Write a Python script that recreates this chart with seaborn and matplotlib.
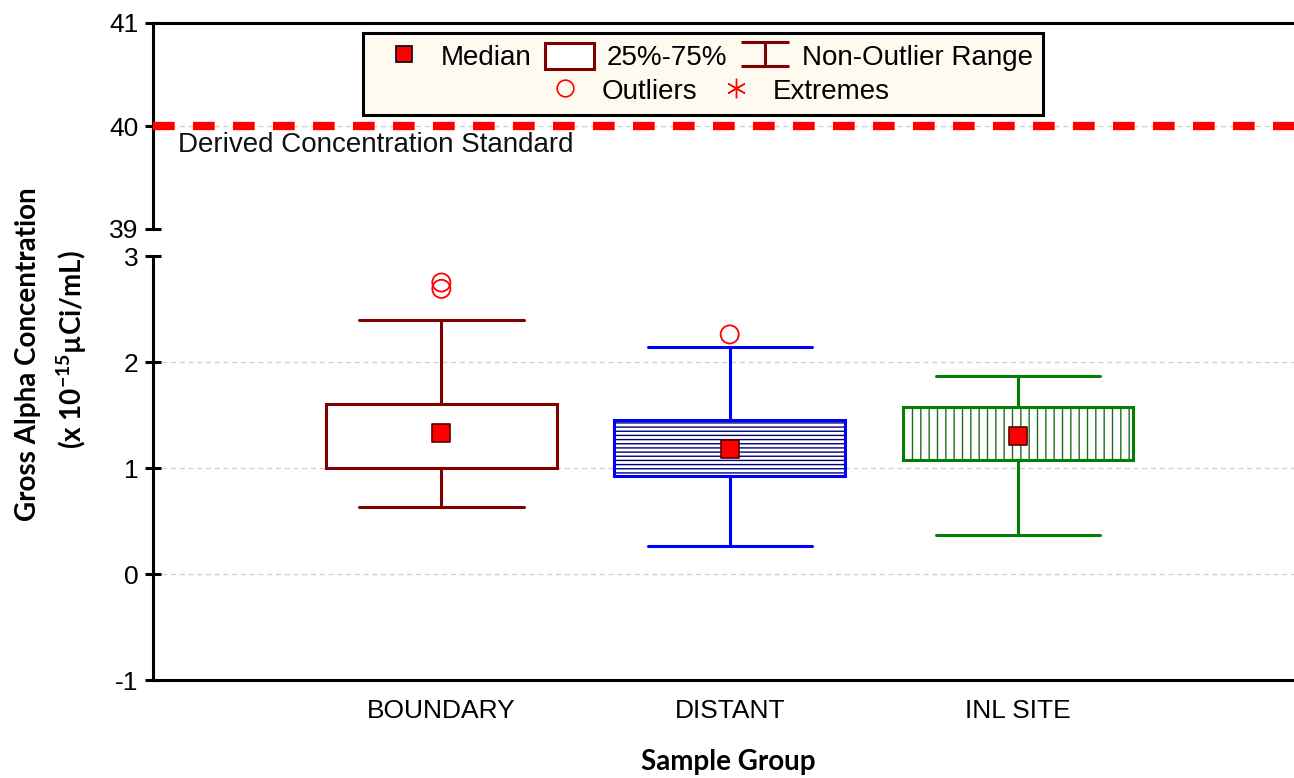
import numpy as np
import pandas as pd
import matplotlib
matplotlib.use("Agg")
import matplotlib.pyplot as plt
import seaborn as sns
from matplotlib.patches import PathPatch, Rectangle, Patch
from matplotlib.lines import Line2D
from matplotlib.path import Path

# ---------------- data ----------------
groups = ["BOUNDARY", "DISTANT", "INL SITE"]
medians = [1.33, 1.18, 1.30]
q1 = [1.00, 0.92, 1.08]
q3 = [1.60, 1.45, 1.58]
whislo = [0.63, 0.26, 0.37]
whishi = [2.40, 2.14, 1.87]
outlier_group = ["BOUNDARY", "BOUNDARY", "DISTANT"]
outlier_values = [2.75, 2.69, 2.26]
dcs_value = 40
dcs_label = "Derived Concentration Standard"
top_ticks = [39, 40, 41]
bottom_ticks = [-1, 0, 1, 2, 3]
legend_row1 = ["Median", "25%-75%", "Non-Outlier Range"]
legend_row2 = ["Outliers", "Extremes"]
xlabel = "Sample Group"
ylabel_line1 = "Gross Alpha Concentration"
ylabel_line2 = "(x 10$^{-15}$\u00b5Ci/mL)"

# ---------------- style ----------------
box_colors = ["#800000", "#0000ff", "#008000"]
hatches = [None, "----", "||"]
hatch_colors = [None, "#000080", "#1e6e1e"]

sns.set_theme(style="white")
plt.rcParams["font.family"] = ["Liberation Sans", "DejaVu Sans"]
plt.rcParams["mathtext.default"] = "regular"
plt.rcParams["hatch.linewidth"] = 1.0

W_PX, H_PX = 1294, 778
fig = plt.figure(figsize=(W_PX / 100, H_PX / 100), dpi=100)
L = 153 / W_PX
ax_top = fig.add_axes([L, 1 - 229 / H_PX, 1 - L, (229 - 23) / H_PX])
ax_bot = fig.add_axes([L, 1 - 680 / H_PX, 1 - L, (680 - 256) / H_PX])

positions = np.arange(1, len(groups) + 1)
xlim = (0, 3.957)

# ---------------- boxes ----------------
stats = [dict(med=m, q1=a, q3=b, whislo=lo, whishi=hi, fliers=[])
         for m, a, b, lo, hi in zip(medians, q1, q3, whislo, whishi)]
bp = ax_bot.bxp(stats, positions=positions, widths=0.80, capwidths=0.57,
                patch_artist=True, showfliers=False, manage_ticks=False)
for i, box in enumerate(bp["boxes"]):
    c = box_colors[i]
    box.set_facecolor("none")
    box.set_edgecolor(c)
    box.set_linewidth(2.2)
    box.set_zorder(3)
    if hatches[i]:
        hp = PathPatch(box.get_path(), facecolor="white", edgecolor=hatch_colors[i],
                       hatch=hatches[i], lw=0, zorder=2)
    else:
        hp = PathPatch(box.get_path(), facecolor="white", lw=0, zorder=2)
    ax_bot.add_patch(hp)
    for ln in bp["whiskers"][2 * i:2 * i + 2] + bp["caps"][2 * i:2 * i + 2]:
        ln.set_color(c)
        ln.set_linewidth(2.2)
        ln.set_zorder(2.5)
for ln in bp["medians"]:
    ln.set_visible(False)

# medians
med_df = pd.DataFrame({"x": positions, "y": medians})
sns.scatterplot(data=med_df, x="x", y="y", marker="s", s=150, color="red",
                edgecolor="#5a0000", linewidth=1.2, ax=ax_bot, zorder=6, legend=False)

# outliers
pos_map = dict(zip(groups, positions))
out_df = pd.DataFrame({"x": [pos_map[g] for g in outlier_group], "y": outlier_values})
sns.scatterplot(data=out_df, x="x", y="y", marker="o", s=170, facecolors="none",
                edgecolor="red", linewidth=1.3, ax=ax_bot, zorder=6, legend=False)

# ---------------- DCS line ----------------
ax_top.axhline(dcs_value, color="red", lw=6, ls=(0, (2.6, 2.2)), zorder=4)
ax_top.text(0.087, dcs_value - 0.18, dcs_label, fontsize=20, va="center",
            ha="left", color="#111111")

# ---------------- axes styling ----------------
grid_kw = dict(color="#cfcfcf", ls=(0, (4, 3)), lw=0.9, zorder=0.5)
for ax, ticks in ((ax_top, top_ticks), (ax_bot, bottom_ticks)):
    ax.set_xlim(*xlim)
    ax.set_facecolor("white")
    ax.grid(False)
    for t in ticks[:-1]:
        ax.axhline(t, **grid_kw)
    for s in ax.spines.values():
        s.set_color("black")
        s.set_linewidth(2.2)
    ax.spines["right"].set_visible(False)
    ax.tick_params(axis="y", direction="inout", length=11, width=2.2,
                   labelsize=19, pad=5, colors="black", left=True)
    ax.set_xlabel("")
    ax.set_ylabel("")

ax_top.set_ylim(39, 41)
ax_top.set_yticks(top_ticks)
ax_top.spines["bottom"].set_visible(False)
ax_top.set_xticks([])

ax_bot.set_ylim(-1, 3)
ax_bot.set_yticks(bottom_ticks)
ax_bot.set_yticklabels([str(t) for t in bottom_ticks])
ax_bot.spines["top"].set_visible(False)
ax_bot.set_xticks(positions)
ax_bot.set_xticklabels(groups)
ax_bot.tick_params(axis="x", length=0, labelsize=19, pad=14, colors="black")

# ---------------- labels ----------------
lab_font = dict(family=["Lato", "DejaVu Sans"], weight="bold", fontsize=20, color="black")
fig.text(728 / W_PX, 1 - 762 / H_PX, xlabel, ha="center", va="center", **lab_font)
fig.text(28 / W_PX, 1 - 354 / H_PX, ylabel_line1, ha="center", va="center",
         rotation=90, **lab_font)
fig.text(72 / W_PX, 1 - 350 / H_PX, ylabel_line2, ha="center", va="center",
         rotation=90, **lab_font)

# ---------------- legend ----------------
frame = Rectangle((363 / W_PX, 1 - 115 / H_PX), 680 / W_PX, 82 / H_PX,
                  transform=fig.transFigure, facecolor="#fffaf0", edgecolor="black",
                  lw=2.2, zorder=10)
fig.add_artist(frame)

ibeam = Path([(-1, 0.5), (1, 0.5), (0, 0.5), (0, -0.5), (-1, -0.5), (1, -0.5)],
             [Path.MOVETO, Path.LINETO, Path.MOVETO, Path.LINETO, Path.MOVETO, Path.LINETO])
h_med = Line2D([], [], marker="s", ls="none", color="red", mec="black", ms=11, mew=1.2)
h_box = Patch(facecolor="white", edgecolor="#800000", lw=2.2)
h_rng = Line2D([], [], marker=ibeam, ls="none", color="#800000", ms=34, mew=2.2, mfc="none")
h_out = Line2D([], [], marker="o", ls="none", mfc="none", mec="red", ms=12, mew=1.2)
h_ext = Line2D([], [], marker=(6, 2, 0), ls="none", color="red", ms=14, mew=1.0)

leg_kw = dict(frameon=False, fontsize=20, handlelength=1.75, handleheight=1.1,
              handletextpad=0.45, columnspacing=0.5, borderpad=0, borderaxespad=0,
              loc="center", bbox_transform=fig.transFigure)
leg1 = fig.legend([h_med, h_box, h_rng], legend_row1, ncol=3,
                  bbox_to_anchor=(706 / W_PX, 1 - 57 / H_PX), **leg_kw)
leg2 = fig.legend([h_out, h_ext], legend_row2, ncol=2,
                  bbox_to_anchor=(715 / W_PX, 1 - 91 / H_PX), **leg_kw)
for lg in (leg1, leg2):
    lg.set_zorder(11)
    for t in lg.get_texts():
        t.set_color("black")

fig.savefig("out.png", dpi=100)
